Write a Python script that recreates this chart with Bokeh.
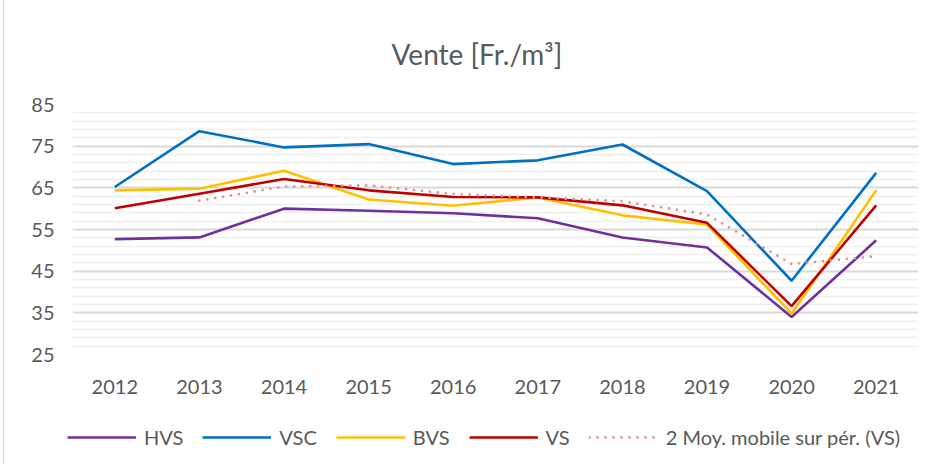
from bokeh.plotting import figure
from bokeh.models import FixedTicker, Legend, LegendItem
from bokeh.layouts import column
from bokeh.embed import file_html
from bokeh.resources import INLINE

years = [2012, 2013, 2014, 2015, 2016, 2017, 2018, 2019, 2020, 2021]
hvs = [52.7, 53.1, 60.0, 59.5, 58.9, 57.7, 53.1, 50.7, 34.0, 52.4]
vsc = [65.2, 78.6, 74.7, 75.5, 70.7, 71.6, 75.4, 64.2, 42.7, 68.6]
bvs = [64.4, 64.8, 69.1, 62.2, 60.7, 62.7, 58.4, 56.2, 34.8, 64.4]
vs = [60.1, 63.6, 67.1, 64.4, 62.8, 62.7, 60.8, 56.6, 36.6, 60.8]
ma_years = [2013, 2014, 2015, 2016, 2017, 2018, 2019, 2020, 2021]
ma_vs = [61.9, 65.3, 65.6, 63.5, 62.7, 61.8, 58.6, 46.7, 48.6]
y_ticks = [25, 35, 45, 55, 65, 75, 85]
y_minor = [27, 29, 31, 33, 37, 39, 41, 43, 47, 49, 51, 53, 57, 59, 61, 63,
           67, 69, 71, 73, 77, 79, 81, 83]
labels = ["HVS", "VSC", "BVS", "VS", "2 Moy. mobile sur pér. (VS)"]

FONT = "Lato"
TXT = "#595959"
COLORS = ["#7030A0", "#0070C0", "#FFC000", "#C00000", "#DA9694"]
series = [(years, hvs), (years, vsc), (years, bvs), (years, vs), (ma_years, ma_vs)]


def draw(fig):
    rs = []
    for i, ((xs, ys), c) in enumerate(zip(series, COLORS)):
        if i < 4:
            rs.append(fig.line(xs, ys, line_color=c, line_width=2.6))
        else:
            rs.append(fig.line(xs, ys, line_color=c, line_width=2.8,
                               line_dash="0 8", line_cap="round"))
    return rs


p = figure(frame_width=845, frame_height=250, output_backend="svg", toolbar_location=None,
           x_range=(2011.5, 2021.5), y_range=(25, 85),
           min_border_left=68, min_border_right=4, min_border_top=104,
           min_border_bottom=50, title="Vente [Fr./m³]",
           styles={"border-left": "1px solid #D9D9D9", "margin-left": "3px"})
p.outline_line_color = None
p.title.align = "left"
p.title.text_font = FONT
p.title.text_font_size = "28px"
p.title.text_font_style = "normal"
p.title.text_color = TXT
p.title.offset = 319
p.title.standoff = 67

p.xaxis.ticker = FixedTicker(ticks=years)
p.yaxis.ticker = FixedTicker(ticks=y_ticks, minor_ticks=y_minor)
for ax in (p.xaxis[0], p.yaxis[0]):
    ax.axis_line_color = None
    ax.major_tick_line_color = None
    ax.minor_tick_line_color = None
    ax.major_tick_out = 0
    ax.minor_tick_out = 0
    ax.major_label_text_font = FONT
    ax.major_label_text_font_size = "20px"
    ax.major_label_text_color = TXT
p.xaxis.major_label_standoff = 25
p.yaxis.major_label_standoff = 18

p.xgrid.grid_line_color = None
p.ygrid.grid_line_color = "#D9D9D9"
p.ygrid.grid_line_width = 2
p.ygrid.minor_grid_line_color = "#F0F0F0"
p.ygrid.minor_grid_line_width = 1.5

draw(p)

# legend strip below the chart (its lines lie outside this strip's ranges)
q = figure(frame_width=917, frame_height=60, output_backend="svg", toolbar_location=None,
           min_border=0, x_range=(0, 1), y_range=(0, 1),
           styles={"border-left": "1px solid #D9D9D9", "margin-left": "3px"})
q.axis.visible = False
q.grid.grid_line_color = None
q.outline_line_color = None
rs = draw(q)

legend = Legend(items=[LegendItem(label=l, renderers=[r]) for l, r in zip(labels, rs)],
                orientation="horizontal", location=(63, 15),
                label_text_font=FONT, label_text_font_size="20px",
                label_text_color=TXT, glyph_width=69, glyph_height=20,
                label_standoff=8, spacing=19, border_line_color=None,
                background_fill_alpha=0, margin=0, padding=0)
q.add_layout(legend, "center")

open("out.html", "w").write(file_html(column(p, q, spacing=0), INLINE))
